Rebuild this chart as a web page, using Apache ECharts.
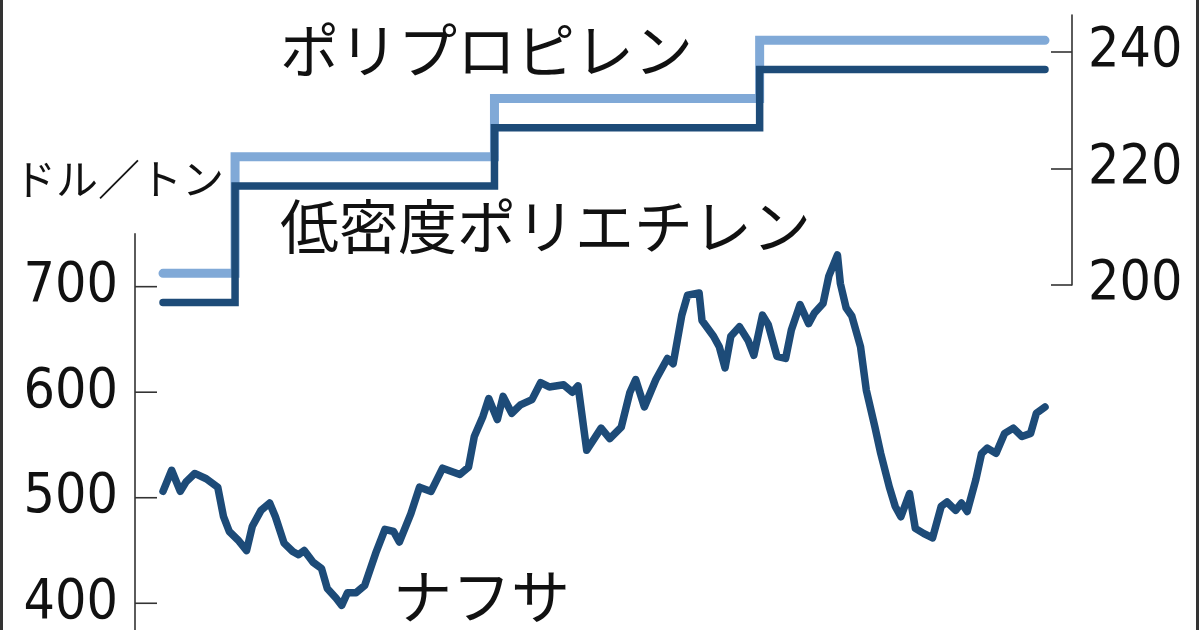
<!DOCTYPE html>
<html>
<head>
<meta charset="utf-8">
<script src="https://cdn.jsdelivr.net/npm/echarts@6/dist/echarts.min.js"></script>
<style>
html,body{margin:0;padding:0;background:#fff;}
#chart{width:1200px;height:630px;}
</style>
</head>
<body>
<div id="chart"></div>
<script>
// x = days from start of period
const naphthaDays = [0,3,6,8,11,15,19,21,23,26,29,31,34,37,39,42,45,47,49,52,55,57,60,62,64,67,70,74,77,80,82,86,89,93,97,103,106,108,111,113,116,118,121,124,128,131,134,139,142,144,147,152,155,159,162,164,167,171,175,177,180,182,186,187,191,193,195,197,200,203,205,208,210,213,216,218,221,224,226,229,231,234,235,237,239,242,244,247,249,252,254,256,259,261,264,267,270,272,275,277,279,282,284,286,289,292,295,298,301,303,306];
const naphthaValues = [506,526,506,515,523,518,510,482,468,460,450,473,488,495,482,457,449,446,450,439,433,414,405,398,410,410,417,449,470,468,458,485,510,506,528,522,529,558,577,594,574,596,580,588,593,609,605,607,600,606,545,566,556,567,600,612,586,612,632,627,673,692,694,668,653,643,623,653,662,649,635,673,664,634,632,659,683,665,675,684,710,730,703,680,672,643,602,567,542,510,492,482,504,471,466,462,492,496,488,495,487,517,542,547,542,561,566,558,561,580,586];

const stepDays = [0,25,25,115,115,207,207,306];
const ppValues = [202,202,222,222,232,232,242,242];     // ポリプロピレン
const ldpeValues = [197,197,217,217,227,227,237,237];   // 低密度ポリエチレン

const leftTicks = [400,500,600,700];
const rightTicks = [200,220,240];

const numFont = "'Liberation Sans Narrow','DejaVu Sans Condensed','Liberation Sans',sans-serif";
const jpFont = "'Noto Sans CJK JP',sans-serif";
const axisColor = '#333';

const zip = (xs, ys) => xs.map((x, i) => [x, ys[i]]);

const chart = echarts.init(document.getElementById('chart'), null, {renderer:'canvas'});
chart.setOption({
  animation: false,
  backgroundColor: '#ffffff',
  grid: [
    {left: 163, right: 155, top: 15, height: 270, containLabel: false, outerBoundsMode: 'none'},
    {left: 163, right: 155, top: 233.9, height: 474.9, containLabel: false, outerBoundsMode: 'none'},
    {left: 163, right: 155, top: 286.7, height: 422.1, containLabel: false, outerBoundsMode: 'none'}
  ],
  xAxis: [
    {gridIndex: 0, type: 'value', min: 0, max: 306, show: false},
    {gridIndex: 1, type: 'value', min: 0, max: 306, show: false},
    {gridIndex: 2, type: 'value', min: 0, max: 306, show: false}
  ],
  yAxis: [
    {
      gridIndex: 0, type: 'value', position: 'right', offset: 27,
      min: 200, max: 246.35, interval: 20,
      splitLine: {show: false},
      axisLine: {show: true, onZero: false, lineStyle: {color: axisColor, width: 1.6}},
      axisTick: {show: true, inside: true, length: 21, customValues: rightTicks, lineStyle: {color: axisColor, width: 1.6}},
      axisLabel: {show: true, margin: 16, customValues: rightTicks,
        fontFamily: numFont, fontSize: 55, color: '#111'}
    },
    {
      // left axis line (full height)
      gridIndex: 1, type: 'value', position: 'left', offset: 28,
      min: 300, max: 750, interval: 100,
      splitLine: {show: false},
      axisLine: {show: true, onZero: false, lineStyle: {color: axisColor, width: 1.6}},
      axisTick: {show: false},
      axisLabel: {show: false}
    },
    {
      // left axis labels
      gridIndex: 2, type: 'value', position: 'left', offset: 28,
      min: 300, max: 700, interval: 100,
      splitLine: {show: false},
      axisLine: {show: false, onZero: false},
      axisTick: {show: false},
      axisLabel: {show: true, margin: 17,
        formatter: v => (leftTicks.indexOf(v) >= 0 ? String(v) : ''),
        fontFamily: numFont, fontSize: 55, color: '#111'}
    }
  ],
  series: [
    {
      name: 'ポリプロピレン', type: 'line', xAxisIndex: 0, yAxisIndex: 0,
      data: zip(stepDays, ppValues), showSymbol: false, clip: false,
      lineStyle: {color: '#80a9d7', width: 9, cap: 'round', join: 'miter'}
    },
    {
      name: '低密度ポリエチレン', type: 'line', xAxisIndex: 0, yAxisIndex: 0,
      data: zip(stepDays, ldpeValues), showSymbol: false, clip: false,
      lineStyle: {color: '#1d4b78', width: 7.5, cap: 'round', join: 'miter'}
    },
    {
      name: 'ナフサ', type: 'line', xAxisIndex: 1, yAxisIndex: 1,
      data: zip(naphthaDays, naphthaValues), showSymbol: false, clip: false,
      lineStyle: {color: '#1d4b78', width: 7.5, cap: 'round', join: 'round'}
    },
    {
      // left-axis tick marks pointing into the plot
      name: 'leftTicks', type: 'custom', xAxisIndex: 1, yAxisIndex: 1,
      silent: true, clip: false,
      data: leftTicks.map(v => [0, v]),
      renderItem: (params, api) => {
        const p = api.coord([0, api.value(1)]);
        return {
          type: 'line',
          shape: {x1: p[0] - 28, y1: p[1], x2: p[0] - 6, y2: p[1]},
          style: {stroke: axisColor, lineWidth: 1.6}
        };
      }
    }
  ],
  graphic: [
    {type: 'text', left: 14, top: 158, style: {text: 'ドル／トン', font: '42px ' + jpFont, fill: '#111'}},
    {type: 'text', left: 280, top: 21, style: {text: 'ポリプロピレン', font: '59px ' + jpFont, fill: '#111'}},
    {type: 'text', left: 280, top: 197, style: {text: '低密度ポリエチレン', font: '59px ' + jpFont, fill: '#111'}},
    {type: 'text', left: 393, top: 567, style: {text: 'ナフサ', font: '59px ' + jpFont, fill: '#111'}},
    {type: 'text', left: 990, top: -42, style: {text: '円／キロ', font: '40px ' + jpFont, fill: '#111'}},
    {type: 'rect', left: 0, top: 0, shape: {width: 3, height: 630}, style: {fill: '#333'}},
    {type: 'rect', left: 1196, top: 0, shape: {width: 3, height: 630}, style: {fill: '#333'}}
  ]
});
</script>
</body>
</html>
